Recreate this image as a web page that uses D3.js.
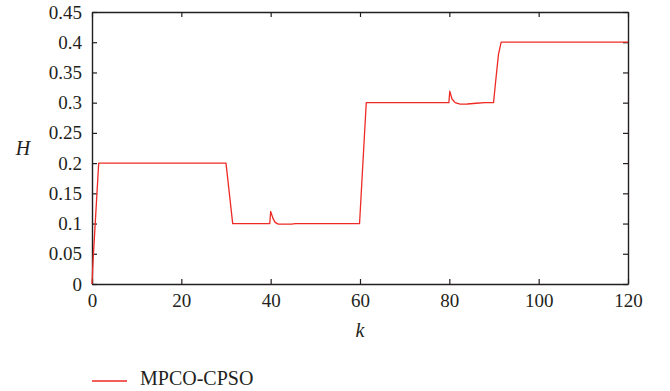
<!DOCTYPE html>
<html>
<head>
<meta charset="utf-8">
<script src="https://cdn.jsdelivr.net/npm/d3@7"></script>
<style>
  body { margin: 0; background: #fff; }
  .axis path, .axis line { stroke: #231f20; }
</style>
</head>
<body>
<div id="chart-area"></div>
<script>
// data
let kValues = [0, 0.25, 1.5, 30, 31.5, 39.8, 40, 40.5, 41, 41.7, 44.7, 45.5, 59.9, 61.4,
  79.9, 80.1, 80.6, 81.3, 82.4, 84, 86, 88, 89.9, 90.3, 91, 91.6, 120];
let hValues = [0, 0.04, 0.2, 0.2, 0.1, 0.1, 0.12, 0.109, 0.102, 0.099, 0.099, 0.1, 0.1, 0.3,
  0.3, 0.319, 0.306, 0.3, 0.2975, 0.2978, 0.299, 0.3, 0.3, 0.33, 0.38, 0.4, 0.4];
let xTicks = [0, 20, 40, 60, 80, 100, 120];
let yTicks = [0, 0.05, 0.1, 0.15, 0.2, 0.25, 0.3, 0.35, 0.4, 0.45];
let seriesName = "MPCO-CPSO";

let data = kValues.map((k, i) => ({k: k, h: hValues[i]}));

let serif = "'Liberation Serif', 'Times New Roman', Tinos, 'DejaVu Serif', 'Noto Serif', serif";

let margin = {top: 12, right: 42, bottom: 107, left: 92};
let width = 670 - margin.left - margin.right;
let height = 391 - margin.top - margin.bottom;

let svg = d3.select("#chart-area").append("svg")
    .attr("width", 670)
    .attr("height", 391)
  .append("g")
    .attr("transform", "translate(" + margin.left + "," + margin.top + ")");

let x = d3.scaleLinear().domain([0, 120]).range([0, width]);
let y = d3.scaleLinear().domain([0, 0.45]).range([height, 0]);

// axes, ticks pointing inward, mirrored on top / right
let xAxis = d3.axisBottom(x).tickValues(xTicks).tickSizeInner(-5).tickSizeOuter(0).tickPadding(10);
let yAxis = d3.axisLeft(y).tickValues(yTicks).tickSizeInner(-5).tickSizeOuter(0).tickPadding(10)
  .tickFormat(d => d3.format("")(+d.toFixed(2)));

svg.append("g").attr("class", "axis x-axis")
  .attr("transform", "translate(0," + height + ")")
  .call(xAxis);
svg.append("g").attr("class", "axis y-axis").call(yAxis);
svg.append("g").attr("class", "axis")
  .call(d3.axisTop(x).tickValues(xTicks).tickSizeInner(-5).tickSizeOuter(0).tickFormat(""));
svg.append("g").attr("class", "axis")
  .attr("transform", "translate(" + width + ",0)")
  .call(d3.axisRight(y).tickValues(yTicks).tickSizeInner(-5).tickSizeOuter(0).tickFormat(""));

svg.selectAll(".axis path").attr("stroke-width", 1.4);
svg.selectAll(".axis line").attr("stroke-width", 1.2);
svg.selectAll(".axis text")
  .style("font-family", serif)
  .style("font-size", "19px")
  .attr("fill", "#231f20");

// line
const line = d3.line().x(d => x(d.k)).y(d => y(d.h));
svg.append("path")
  .datum(data)
  .attr("d", line)
  .attr("fill", "none")
  .attr("stroke", "#ee2a24")
  .attr("stroke-width", 1.3)
  .attr("stroke-linejoin", "round");

// axis titles
svg.append("text")
  .attr("x", -69)
  .attr("y", y(0.225))
  .attr("dy", "0.35em")
  .attr("text-anchor", "middle")
  .style("font-family", serif)
  .style("font-size", "20px")
  .style("font-style", "italic")
  .attr("fill", "#231f20")
  .text("H");

svg.append("text")
  .attr("x", x(60))
  .attr("y", height + 53)
  .attr("text-anchor", "middle")
  .style("font-family", serif)
  .style("font-size", "20px")
  .style("font-style", "italic")
  .attr("fill", "#231f20")
  .text("k");

// legend
let legend = svg.append("g").attr("transform", "translate(0," + (height + 97) + ")");
legend.append("line")
  .attr("x1", 0).attr("x2", 35)
  .attr("y1", 0).attr("y2", 0)
  .attr("stroke", "#ee2a24")
  .attr("stroke-width", 1.3);
legend.append("text")
  .attr("x", 48)
  .attr("y", 4)
  .style("font-family", serif)
  .style("font-size", "20px")
  .attr("fill", "#231f20")
  .text(seriesName);
</script>
</body>
</html>
